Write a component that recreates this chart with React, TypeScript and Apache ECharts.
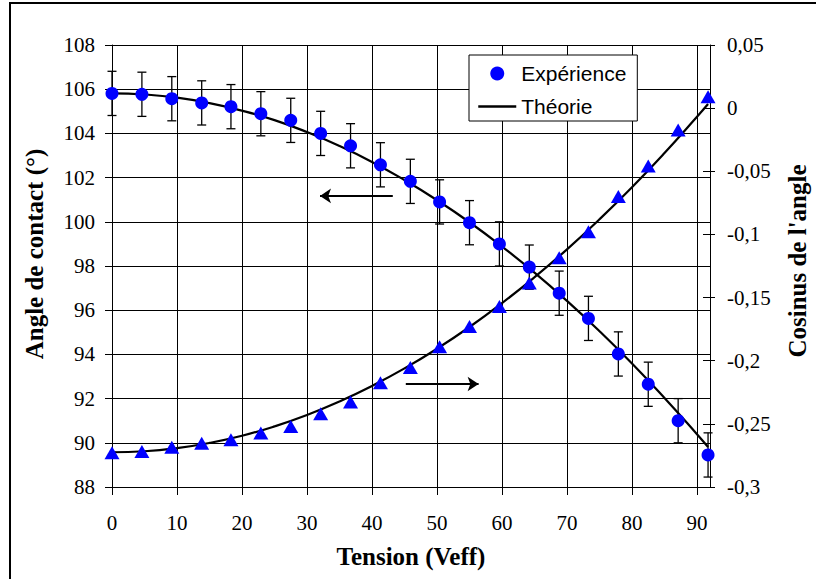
import React, { useEffect, useRef } from "react";
import * as echarts from "echarts";

// Tension (Veff) of the measurement points
const X_VALUES = [0, 4.6, 9.2, 13.8, 18.3, 22.9, 27.5, 32.1, 36.7, 41.3, 45.9, 50.4, 55.0, 59.6, 64.2, 68.8, 73.3, 77.9, 82.5, 87.1, 91.7];
// Contact angle, experiment (°)
const ANGLE_EXP = [105.81, 105.77, 105.57, 105.38, 105.21, 104.89, 104.59, 104.0, 103.44, 102.58, 101.83, 100.9, 99.96, 99.0, 97.95, 96.77, 95.63, 94.02, 92.65, 91.0, 89.45];
// Error (±) on the angle
const ANGLE_ERR = [1, 1, 1, 1, 1, 1, 1, 1, 1, 1, 1, 1, 1, 1, 1, 1, 1, 1, 1, 1, 1];
// Cosine of the angle, experiment
const COS_EXP = [-0.2728, -0.2718, -0.2686, -0.2654, -0.2625, -0.2572, -0.252, -0.242, -0.2326, -0.2174, -0.2054, -0.1889, -0.173, -0.157, -0.1385, -0.1184, -0.0979, -0.07, -0.0458, -0.0174, 0.009];
// Theory curves
const THEORY_X = [0, 5, 10, 15, 20, 25, 30, 35, 40, 45, 50, 55, 60, 65, 70, 75, 80, 85, 90, 91.7];
const THEORY_ANGLE = [105.81, 105.76, 105.62, 105.37, 105.03, 104.6, 104.06, 103.43, 102.71, 101.89, 100.98, 99.98, 98.88, 97.7, 96.42, 95.05, 93.59, 92.03, 90.39, 89.81];
const THEORY_COS = [-0.2725, -0.2717, -0.2692, -0.2651, -0.2594, -0.252, -0.243, -0.2323, -0.22, -0.2061, -0.1905, -0.1733, -0.1544, -0.1339, -0.1118, -0.088, -0.0626, -0.0355, -0.0068, 0.0033];
// Annotation arrows (data coordinates on the left axis): [tail, tip]
const ARROW_LEFT = [[43.2, 101.17], [32.0, 101.17]];
const ARROW_RIGHT = [[45.2, 92.66], [56.4, 92.66]];

const SERIF = "'Liberation Serif', 'Times New Roman', serif";
const SANS = "'Liberation Sans', Arial, sans-serif";
const BLUE = "#0000FF";

export default function App() {
  const ref = useRef<HTMLDivElement>(null);

  useEffect(() => {
    if (!ref.current) return;
    const chart = echarts.init(ref.current, null, { renderer: "svg" });

    const fmtComma = (v: number) => {
      if (Math.abs(v) < 1e-9) return "0";
      return String(+v.toFixed(2)).replace(".", ",");
    };

    const option: any = {
      animation: false,
      backgroundColor: "#fff",
      grid: { left: 112, right: 106, top: 45, bottom: 92, outerBoundsMode: "none" },
      graphic: [
        {
          type: "rect",
          shape: { x: 10, y: 3, width: 900, height: 700 },
          style: { fill: "none", stroke: "#000", lineWidth: 2 },
          silent: true,
          z: -10,
        },
      ],
      legend: {
        left: 469,
        top: 55,
        orient: "vertical",
        selectedMode: false,
        backgroundColor: "#fff",
        borderColor: "#000",
        borderWidth: 1,
        padding: [8, 11, 4, 8],
        itemWidth: 38,
        itemHeight: 14,
        itemGap: 12,
        textStyle: { fontFamily: SANS, fontSize: 21, color: "#000" },
        data: [
          { name: "Expérience", icon: "circle", itemStyle: { color: BLUE, opacity: 1 } },
          { name: "Théorie", itemStyle: { opacity: 0 }, lineStyle: { color: "#000", width: 2.5, opacity: 1 } },
        ],
      },
      xAxis: {
        type: "value",
        min: 0,
        max: 92,
        interval: 10,
        name: "Tension (Veff)",
        nameLocation: "middle",
        nameGap: 57,
        nameTextStyle: { fontFamily: SERIF, fontSize: 25, fontWeight: "bold", color: "#000" },
        axisLine: { onZero: false, lineStyle: { color: "#000", width: 1 } },
        axisTick: { length: 8, lineStyle: { color: "#000" } },
        axisLabel: { fontFamily: SERIF, fontSize: 21, color: "#000", margin: 25, showMaxLabel: false },
        splitLine: { show: true, lineStyle: { color: "#000", width: 1 } },
      },
      yAxis: [
        {
          type: "value",
          position: "left",
          min: 88,
          max: 108,
          interval: 2,
          name: "Angle de contact (°)",
          nameLocation: "middle",
          nameGap: 65,
          nameTextStyle: { fontFamily: SERIF, fontSize: 25, fontWeight: "bold", color: "#000", padding: [0, 0, 0, 24] },
          axisLine: { show: true, onZero: false, lineStyle: { color: "#000", width: 1 } },
          axisTick: { show: true, length: 7, lineStyle: { color: "#000" } },
          axisLabel: { fontFamily: SERIF, fontSize: 21, color: "#000", margin: 17 },
          splitLine: { show: true, lineStyle: { color: "#000", width: 1 } },
        },
        {
          type: "value",
          position: "right",
          min: -0.3,
          max: 0.05,
          interval: 0.05,
          name: "Cosinus de l'angle",
          nameLocation: "middle",
          nameGap: 75,
          nameTextStyle: { fontFamily: SERIF, fontSize: 25, fontWeight: "bold", color: "#000", padding: [0, 0, 0, 10] },
          axisLine: { show: true, onZero: false, lineStyle: { color: "#000", width: 1 } },
          axisTick: { show: true, length: 5, lineStyle: { color: "#000" } },
          axisLabel: { fontFamily: SERIF, fontSize: 21, color: "#000", margin: 17, formatter: fmtComma },
          splitLine: { show: false },
        },
        {
          type: "value",
          position: "right",
          min: -0.3,
          max: 0.05,
          interval: 0.05,
          axisLine: { show: false, onZero: false },
          axisTick: { show: true, inside: true, length: 7, lineStyle: { color: "#000" } },
          axisLabel: { show: false },
          splitLine: { show: false },
        },
      ],
      series: [
        {
          name: "Théorie",
          type: "line",
          yAxisIndex: 0,
          smooth: true,
          symbol: "none",
          color: "#000",
          lineStyle: { color: "#000", width: 2.2 },
          data: THEORY_X.map((x, i) => [x, THEORY_ANGLE[i]]),
          z: 2,
          markLine: {
            silent: true,
            symbol: ["none", "arrow"],
            symbolSize: 11,
            label: { show: false },
            lineStyle: { color: "#000", width: 2, type: "solid" },
            emphasis: { disabled: true },
            data: [
              [{ coord: ARROW_LEFT[0] }, { coord: ARROW_LEFT[1] }],
              [{ coord: ARROW_RIGHT[0] }, { coord: ARROW_RIGHT[1] }],
            ],
          },
        },
        {
          name: "Théorie",
          type: "line",
          yAxisIndex: 1,
          smooth: true,
          symbol: "none",
          color: "#000",
          lineStyle: { color: "#000", width: 2.2 },
          data: THEORY_X.map((x, i) => [x, THEORY_COS[i]]),
          z: 2,
        },
        {
          name: "Cosinus",
          type: "scatter",
          yAxisIndex: 1,
          symbol: "triangle",
          symbolSize: [15, 13],
          itemStyle: { color: BLUE, opacity: 1 },
          data: X_VALUES.map((x, i) => [x, COS_EXP[i]]),
          z: 4,
        },
        {
          name: "Erreur",
          type: "custom",
          yAxisIndex: 0,
          renderItem: (params: any, api: any) => {
            const x = api.value(0);
            const lo = api.value(2);
            const hi = api.value(3);
            const pHi = api.coord([x, hi]);
            const pLo = api.coord([x, lo]);
            const w = 4.5;
            const style = { stroke: "#000", lineWidth: 1.3 };
            return {
              type: "group",
              children: [
                { type: "line", shape: { x1: pHi[0], y1: pHi[1], x2: pLo[0], y2: pLo[1] }, style },
                { type: "line", shape: { x1: pHi[0] - w, y1: pHi[1], x2: pHi[0] + w, y2: pHi[1] }, style },
                { type: "line", shape: { x1: pLo[0] - w, y1: pLo[1], x2: pLo[0] + w, y2: pLo[1] }, style },
              ],
            };
          },
          data: X_VALUES.map((x, i) => [x, ANGLE_EXP[i], ANGLE_EXP[i] - ANGLE_ERR[i], ANGLE_EXP[i] + ANGLE_ERR[i]]),
          z: 3,
          silent: true,
        },
        {
          name: "Expérience",
          type: "scatter",
          yAxisIndex: 0,
          symbol: "circle",
          symbolSize: 13,
          itemStyle: { color: BLUE, opacity: 1 },
          data: X_VALUES.map((x, i) => [x, ANGLE_EXP[i]]),
          z: 5,
        },
      ],
    };

    chart.setOption(option);
    return () => chart.dispose();
  }, []);

  return (
    <div
      ref={ref}
      style={{ position: "fixed", left: 0, top: 0, width: 816, height: 579, background: "#fff" }}
    />
  );
}
